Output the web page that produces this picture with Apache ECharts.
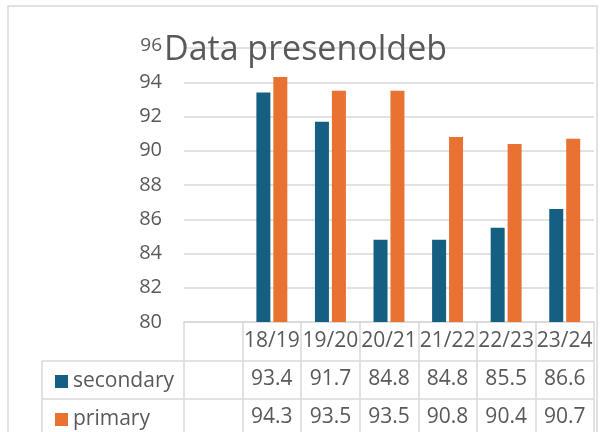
<!DOCTYPE html>
<html>
<head>
<meta charset="utf-8">
<script src="https://cdn.jsdelivr.net/npm/echarts@6/dist/echarts.min.js"></script>
<style>
  html, body { margin: 0; padding: 0; background: #fff; }
  #chart { width: 611px; height: 432px; }
</style>
</head>
<body>
<div id="chart"></div>
<script>
// categories (first slot is the empty column of the data table)
const years = ["", "18/19", "19/20", "20/21", "21/22", "22/23", "23/24"];
const secondary = [null, 93.4, 91.7, 84.8, 84.8, 85.5, 86.6];
const primary = [null, 94.3, 93.5, 93.5, 90.8, 90.4, 90.7];
const yTicks = { min: 80, max: 96, step: 2 };

const FONT = "Open Sans";
const GREY = "#595959";
const LINE = "#d9d9d9";

// grid box, used for the table lines
const G = { left: 184, right: 594, top: 48, bottom: 322 };
const ROW = 38;

const fmt = v => (v == null ? "" : v.toFixed(1));

const tableAxis = (vals, offset) => ({
  type: "category",
  data: vals.map(fmt),
  position: "bottom",
  offset: offset,
  axisLine: { show: false },
  axisTick: { show: false },
  axisLabel: {
    interval: 0,
    margin: 9,
    color: GREY,
    fontFamily: FONT,
    fontSize: 21
  }
});

// one legend per table row so they sit in their own cells
const rowLegend = (name, top) => ({
  left: 50,
  top: top,
  itemWidth: 13,
  itemHeight: 13,
  icon: "rect",
  textStyle: { color: GREY, fontFamily: FONT, fontSize: 21 },
  data: [name]
});

const chart = echarts.init(document.getElementById("chart"));

chart.setOption({
  animation: false,
  title: {
    text: "Data presenoldeb",
    left: "center",
    top: 28,
    textStyle: { color: GREY, fontFamily: FONT, fontWeight: "normal", fontSize: 34 }
  },
  legend: [
    rowLegend("secondary", G.bottom + ROW + 6),
    rowLegend("primary", G.bottom + ROW * 2 + 6)
  ],
  grid: {
    left: G.left,
    right: 611 - G.right,
    top: G.top,
    bottom: 432 - G.bottom,
    containLabel: false
  },
  xAxis: [
    {
      type: "category",
      data: years,
      boundaryGap: true,
      axisLine: { lineStyle: { color: LINE, width: 1.5 } },
      axisTick: { show: true, interval: 0, length: 120, lineStyle: { color: LINE, width: 1.5 } },
      axisLabel: { interval: 0, margin: 9, color: GREY, fontFamily: FONT, fontSize: 21 }
    },
    tableAxis(secondary, ROW),
    tableAxis(primary, ROW * 2)
  ],
  yAxis: {
    type: "value",
    min: yTicks.min,
    max: yTicks.max,
    interval: yTicks.step,
    axisLine: { show: false },
    axisTick: { show: false },
    splitLine: { lineStyle: { color: LINE, width: 1.5 } },
    axisLabel: {
      margin: 22,
      color: GREY,
      fontFamily: FONT,
      fontSize: 20,
      formatter: v => (v === yTicks.max ? "{top|" + v + "}" : String(v)),
      rich: { top: { fontSize: 19, color: GREY, fontFamily: FONT, padding: [0, 0, 4, 0] } }
    }
  },
  series: [
    {
      name: "secondary",
      type: "bar",
      data: secondary,
      barWidth: 14,
      barGap: "21%",
      itemStyle: { color: "#156082" }
    },
    {
      name: "primary",
      type: "bar",
      data: primary,
      barWidth: 14,
      itemStyle: { color: "#E97132" }
    }
  ],
  graphic: [
    // outer chart border
    {
      type: "rect",
      shape: { x: 8, y: 6, width: 589, height: 440 },
      style: { fill: "none", stroke: LINE, lineWidth: 1.5 },
      silent: true
    },
    // data table lines
    {
      type: "line",
      shape: { x1: 42, y1: G.bottom + ROW + 1, x2: G.right, y2: G.bottom + ROW + 1 },
      style: { stroke: LINE, lineWidth: 1.5 }
    },
    {
      type: "line",
      shape: { x1: 42, y1: G.bottom + ROW * 2 + 1, x2: G.right, y2: G.bottom + ROW * 2 + 1 },
      style: { stroke: LINE, lineWidth: 1.5 }
    },
    {
      type: "line",
      shape: { x1: 42, y1: G.bottom + ROW + 1, x2: 42, y2: 440 },
      style: { stroke: LINE, lineWidth: 1.5 }
    }
  ]
});
</script>
</body>
</html>
